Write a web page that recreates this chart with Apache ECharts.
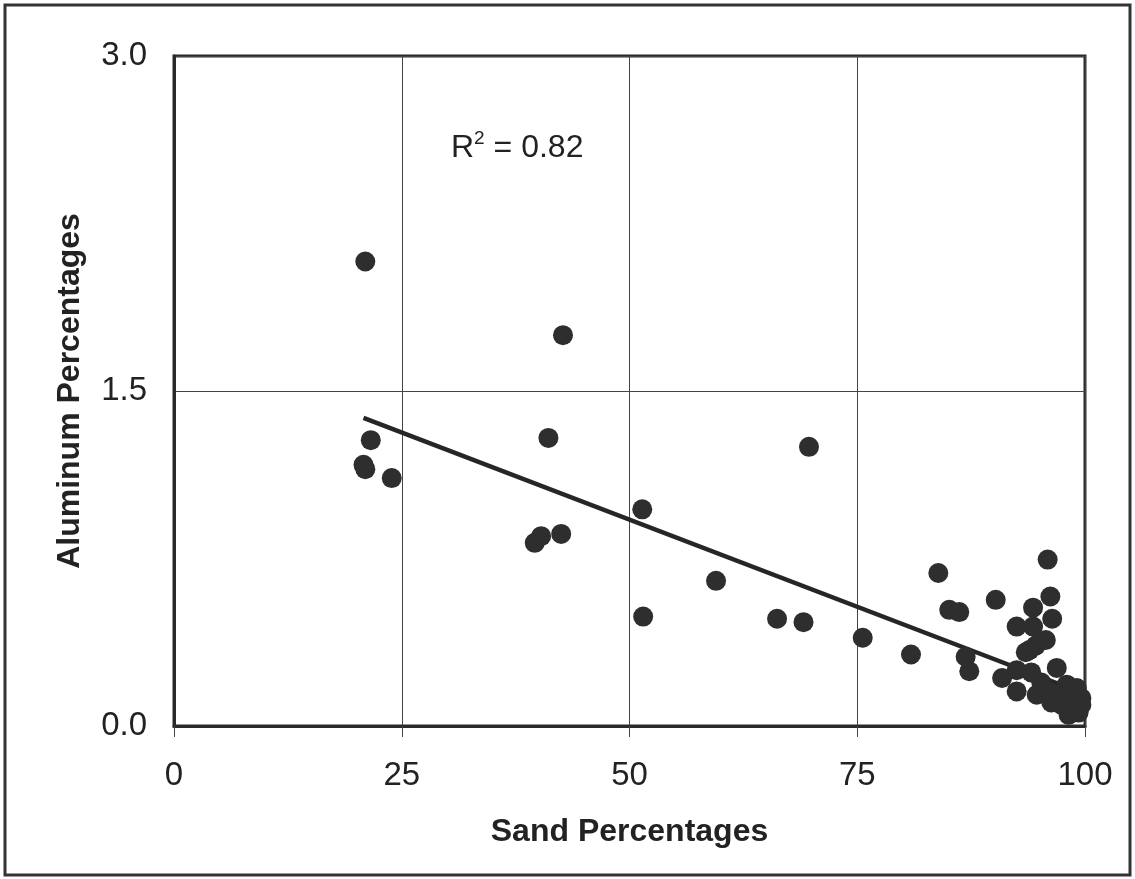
<!DOCTYPE html>
<html>
<head>
<meta charset="utf-8">
<script src="https://cdn.jsdelivr.net/npm/echarts@6/dist/echarts.min.js"></script>
<style>
html,body{margin:0;padding:0;background:#fff;}
#chart{width:1135px;height:879px;}
</style>
</head>
<body>
<div id="chart"></div>
<script>
// Sand percentages (x) and aluminum percentages (y)
const sandPct = [
  21.0, 42.7, 21.6, 41.1, 69.7, 20.8, 21.0, 23.9, 51.4, 39.6,
  40.3, 42.5, 59.5, 51.5, 66.2, 69.1, 75.6, 80.9, 83.9, 85.1,
  86.2, 90.2, 95.9, 96.2, 94.3, 96.4, 92.5, 94.3, 95.7, 94.6,
  93.9, 93.5, 86.9, 87.3, 90.9, 92.5, 94.1, 96.9, 92.5, 95.2,
  94.7, 96.3, 98.0, 98.8, 97.4, 98.8, 99.6, 99.1, 99.6, 96.3,
  98.2, 97.5, 99.3
];
const aluminumPct = [
  2.08, 1.75, 1.28, 1.29, 1.25, 1.17, 1.15, 1.11, 0.97, 0.82,
  0.85, 0.86, 0.65, 0.49, 0.48, 0.465, 0.395, 0.32, 0.685, 0.52,
  0.51, 0.565, 0.745, 0.58, 0.53, 0.48, 0.445, 0.445, 0.385, 0.36,
  0.34, 0.33, 0.31, 0.245, 0.215, 0.25, 0.24, 0.26, 0.155, 0.195,
  0.14, 0.15, 0.185, 0.14, 0.095, 0.07, 0.095, 0.17, 0.125, 0.105,
  0.05, 0.13, 0.06
];
// Linear trendline end points
const trendX = [20.8, 99.6];
const trendY = [1.38, 0.15];
const xTicks = [0, 25, 50, 75, 100];
const yTicks = [0.0, 1.5, 3.0];
const r2Label = '0.82';

const points = sandPct.map((x, i) => [x, aluminumPct[i]]);
const trend = trendX.map((x, i) => [x, trendY[i]]);

const FONT = '"Liberation Sans", Arial, sans-serif';
const chart = echarts.init(document.getElementById('chart'), null, {renderer: 'canvas'});
chart.setOption({
  backgroundColor: '#ffffff',
  animation: false,
  title: {
    left: 446, top: 124,
    text: '{r|R}{s|2}{r| = ' + r2Label + '}',
    textStyle: {
      fontWeight: 'normal',
      rich: {
        r: {fontFamily: FONT, fontSize: 32, fontWeight: 'normal', color: '#222', lineHeight: 38},
        s: {fontFamily: FONT, fontSize: 19, fontWeight: 'normal', color: '#222', verticalAlign: 'top', lineHeight: 38, padding: [0, 0, 15, 0]}
      }
    }
  },
  graphic: [{
    type: 'rect', silent: true, z: -1,
    shape: {x: 5, y: 5, width: 1125, height: 870},
    style: {fill: 'none', stroke: '#333', lineWidth: 3}
  }],
  grid: {
    left: 174, right: 50, top: 56, bottom: 153,
    show: true, borderColor: '#2a2a2a', borderWidth: 3, backgroundColor: '#fff'
  },
  xAxis: {
    type: 'value', min: xTicks[0], max: xTicks[xTicks.length - 1], interval: 25,
    name: 'Sand Percentages', nameLocation: 'middle', nameGap: 90,
    nameTextStyle: {fontFamily: FONT, fontSize: 32, fontWeight: 'bold', color: '#222'},
    axisLine: {show: true, lineStyle: {color: '#2a2a2a', width: 3}},
    axisTick: {show: true, length: 11, lineStyle: {color: '#444', width: 1}},
    axisLabel: {fontFamily: FONT, fontSize: 33, color: '#222', margin: 33},
    splitLine: {show: true, lineStyle: {color: '#444', width: 1}}
  },
  yAxis: {
    type: 'value', min: yTicks[0], max: yTicks[yTicks.length - 1], interval: 1.5,
    name: 'Aluminum Percentages', nameLocation: 'middle', nameGap: 88,
    nameTextStyle: {fontFamily: FONT, fontSize: 32, fontWeight: 'bold', color: '#222'},
    axisLine: {show: true, lineStyle: {color: '#2a2a2a', width: 3}},
    axisTick: {show: false},
    axisLabel: {fontFamily: FONT, fontSize: 33, color: '#222', margin: 27,
      formatter: v => v.toFixed(1)},
    splitLine: {show: true, lineStyle: {color: '#444', width: 1}}
  },
  series: [
    {
      type: 'line', data: trend, symbol: 'none', z: 2,
      lineStyle: {color: '#262626', width: 4.5}
    },
    {
      type: 'scatter', data: points, symbol: 'circle', symbolSize: 20, z: 3,
      itemStyle: {color: '#2e2e2e', opacity: 1}
    }
  ]
});
</script>
</body>
</html>
